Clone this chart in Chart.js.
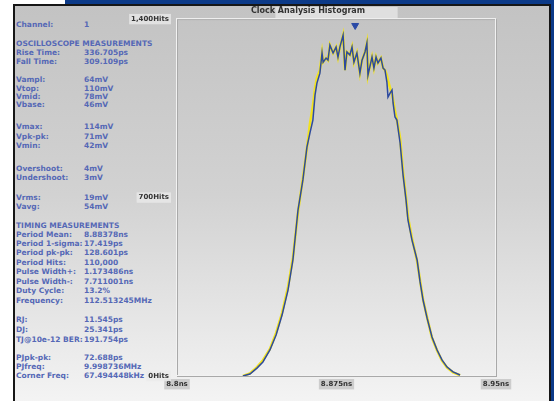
<!DOCTYPE html>
<html><head><meta charset="utf-8">
<script src="https://cdn.jsdelivr.net/npm/chart.js@4"></script>
<style>
html,body{margin:0;padding:0;width:554px;height:401px;overflow:hidden;background:#fff;position:relative;}
#blue{position:absolute;left:65px;top:0;right:0;bottom:0;background:#0c3a88;}
#panel{position:absolute;left:13px;top:4px;width:534px;height:420px;border:2px solid #161616;background:linear-gradient(to bottom,#c3c3c3 0%,#d2d2d2 45%,#f4f4f4 95%);}
.r{position:absolute;white-space:nowrap;font:bold 7.5px "DejaVu Sans",sans-serif;color:#5568b6;line-height:10px;}
canvas{position:absolute;left:0;top:0;}
</style></head>
<body>
<div id="blue"></div>
<div id="panel"></div>
<div id="info"></div>
<canvas id="c" width="554" height="401"></canvas>
<script>
// ---- data ----
const timeNs = [8.8310,8.8343,8.8376,8.8404,8.8437,8.8466,8.8494,8.8522,8.8545,8.8569,8.8592,8.8611,8.8625,8.8639,8.8649,8.8658,8.8672,
 8.8682,8.8687,8.8701,8.8710,8.8719,8.8734,8.8748,8.8757,8.8766,8.8781,8.8790,8.8799,8.8813,8.8823,8.8832,8.8846,8.8860,8.8870,8.8884,8.8893,8.8898,8.8917,8.8926,8.8936,8.8945,8.8959,8.8969,8.8978,
 8.8987,8.8992,8.9002,8.9011,8.9016,8.9025,8.9034,8.9049,8.9063,8.9077,8.9086,8.9105,8.9129,8.9143,8.9157,8.9176,8.9199,8.9223,8.9246,8.9270,8.9298,8.9331];
const blueHits = [0,8,31,55,102,161,239,337,455,651,769,898,953,1004,1102,1149,1188,
 1267,1231,1247,1239,1298,1267,1290,1251,1290,1337,1200,1271,1259,1290,1231,1267,1188,1239,1271,1306,1180,1251,1208,1251,1228,1247,1208,1200,
 1153,1094,1110,1122,1071,1016,1004,914,788,690,612,533,455,369,298,227,153,102,63,35,16,4];
const yellowHits = [0,10,35,62,106,169,247,349,463,643,776,894,990,1060,1130,1170,1200,
 1267,1231,1247,1239,1298,1267,1290,1251,1290,1337,1200,1271,1259,1290,1231,1267,1188,1239,1271,1306,1180,1251,1208,1251,1228,1247,1208,1200,
 1180,1160,1130,1105,1085,1040,1005,935,800,700,625,540,450,375,300,230,150,100,60,33,14,3];
const markerNs = [8.88378];
const markerHits = [1375];
const yTickValues = [0,700,1400];
const yTickLabels = ['0Hits','700Hits','1,400Hits'];
const xTickValues = [8.8,8.875,8.95];
const xTickLabels = ['8.8ns','8.875ns','8.95ns'];
const infoLabels = ['Channel:','OSCILLOSCOPE MEASUREMENTS','Rise Time:','Fall Time:','Vampl:','Vtop:','Vmid:','Vbase:','Vmax:','Vpk-pk:','Vmin:','Overshoot:','Undershoot:','Vrms:','Vavg:','TIMING MEASUREMENTS','Period Mean:','Period 1-sigma:','Period pk-pk:','Period Hits:','Pulse Width+:','Pulse Width-:','Duty Cycle:','Frequency:','RJ:','DJ:','TJ@10e-12 BER:','PJpk-pk:','PJfreq:','Corner Freq:'];
const infoValues = ['1','','336.705ps','309.109ps','64mV','110mV','78mV','46mV','114mV','71mV','42mV','4mV','3mV','19mV','54mV','','8.88378ns','17.419ps','128.601ps','110,000','1.173486ns','7.711001ns','13.2%','112.513245MHz','11.545ps','25.341ps','191.754ps','72.688ps','9.998736MHz','67.494448kHz'];
const infoRows = [25,44,53,62,80,89,97,105,127,137,146,169,178,198,207,226,235,244,253,263,272,282,291,301,320,330,340,358,367,376];

// ---- info panel text ----
const info = document.getElementById('info');
infoLabels.forEach((lab,i)=>{
  const a=document.createElement('div');a.className='r';a.style.left='16px';a.style.top=(infoRows[i]-5)+'px';a.textContent=lab;info.appendChild(a);
  if(infoValues[i]){const b=document.createElement('div');b.className='r';b.style.left='84px';b.style.top=(infoRows[i]-5)+'px';b.textContent=infoValues[i];info.appendChild(b);}
});

// ---- chart ----
const plotFrame = {
  id:'plotFrame',
  beforeDatasetsDraw(chart){
    const {ctx,chartArea:a}=chart;
    ctx.save();
    ctx.lineWidth=1;
    ctx.strokeStyle='#a9a9a9';
    ctx.strokeRect(a.left+0.5,a.top+0.5,a.right-a.left,a.bottom-a.top);
    ctx.strokeStyle='#f2f2f2';
    ctx.strokeRect(a.left-0.5,a.top-0.5,a.right-a.left,a.bottom-a.top);
    ctx.restore();
  },
  beforeDraw(chart){
    const t=chart.titleBlock; if(!t) return;
    const {ctx}=chart; ctx.save();
    ctx.font='bold 8px "DejaVu Sans"';
    const w=ctx.measureText(chart.options.plugins.title.text).width;
    const cx=(chart.chartArea.left+chart.chartArea.right)/2;
    ctx.fillStyle='rgba(228,228,228,0.85)';
    ctx.fillRect(cx-w/2-4,7,w+8,11);
    ctx.restore();
  }
};
const tickFont={family:'"DejaVu Sans"',size:7,weight:'bold'};
new Chart(document.getElementById('c'),{
  type:'line',
  data:{datasets:[
    {data:markerNs.map((x,i)=>({x,y:markerHits[i]})),showLine:false,pointStyle:'triangle',rotation:180,pointRadius:4,backgroundColor:'#2b4aa6',borderColor:'#2b4aa6',order:0},
    {data:timeNs.map((x,i)=>({x,y:blueHits[i]})),borderColor:'#2d4a9e',borderWidth:1.5,pointRadius:0,tension:0,order:1},
    {data:timeNs.map((x,i)=>({x,y:yellowHits[i]})),borderColor:'#f2e21e',borderWidth:2.5,pointRadius:0,tension:0,order:2}
  ]},
  options:{
    responsive:false,animation:false,
    layout:{padding:{left:120,right:58,top:0,bottom:5}},
    plugins:{legend:{display:false},tooltip:{enabled:false},
      title:{display:true,text:'Clock Analysis Histogram',color:'#333',font:{family:'"DejaVu Sans"',size:8,weight:'bold'},padding:{top:6,bottom:3.5}}},
    scales:{
      x:{type:'linear',min:8.8,max:8.95,
        afterBuildTicks:s=>{s.ticks=xTickValues.map(v=>({value:v}));},
        afterFit:s=>{s.height=20;},
        grid:{display:false,drawTicks:false},border:{display:false},
        ticks:{autoSkip:false,maxRotation:0,padding:4,color:'#333',font:tickFont,
          callback:v=>xTickLabels[xTickValues.indexOf(v)],
          showLabelBackdrop:true,backdropColor:'rgba(175,175,175,0.55)',backdropPadding:{x:2,y:1}}},
      y:{type:'linear',min:0,max:1400,
        afterBuildTicks:s=>{s.ticks=yTickValues.map(v=>({value:v}));},
        afterFit:s=>{s.width=57;},
        grid:{display:false,drawTicks:false},border:{display:false},
        ticks:{autoSkip:false,padding:8,color:'#333',font:tickFont,
          callback:v=>yTickLabels[yTickValues.indexOf(v)],
          showLabelBackdrop:true,backdropColor:'rgba(235,235,235,0.75)',backdropPadding:{x:2,y:1}}}
    }
  },
  plugins:[plotFrame]
});
</script>
</body></html>
